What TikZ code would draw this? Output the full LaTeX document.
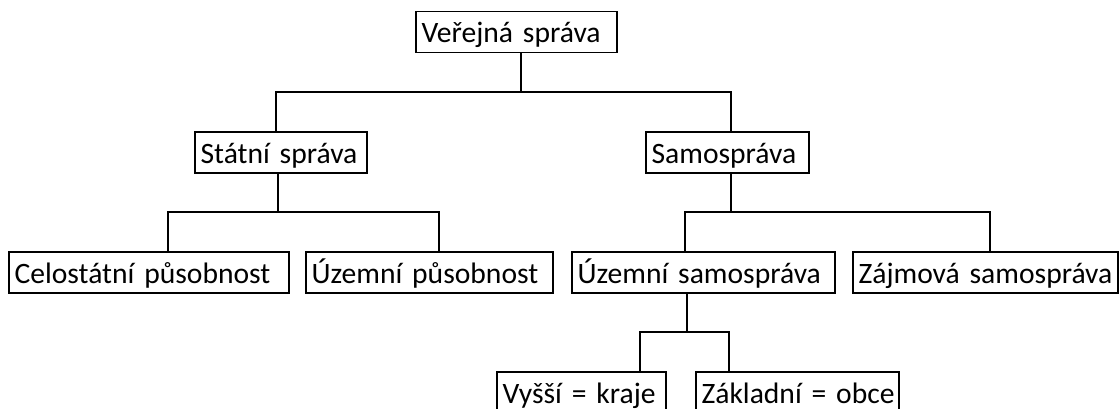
\documentclass[tikz,border=0pt]{standalone}
\usepackage{fontspec}
\setmainfont{Carlito}[WordSpace={0.8,0,0}]
\begin{document}
\begin{tikzpicture}[x=0.75pt,y=-0.75pt,
  bx/.style={draw=black,line width=0.9pt,rectangle,inner xsep=4.2pt,inner ysep=0pt,
    minimum height=30.75pt,align=left,text=black,text height=18.3pt,text depth=2pt,
    font=\fontsize{22.2pt}{25pt}\selectfont},
  ln/.style={draw=black,line width=0.9pt}]
\fill[white] (0,0) rectangle (1119,408);
\useasboundingbox (0,0) rectangle (1119,408);
\clip (0,0) rectangle (1119,408);
\node[bx,text width=142.35pt] (V) at (516.5,32) {\mbox{Veřejná správa}};
\node[bx,text width=120.6pt] (S) at (281,152.5) {\mbox{Státní správa}};
\node[bx,text width=113.85pt] (Sam) at (727.5,152.5) {\mbox{Samospráva}};
\node[bx,text width=201.6pt] (C) at (149,272.5) {\mbox{Celostátní působnost}};
\node[bx,text width=176.85pt] (UP) at (429.5,272.5) {\mbox{Územní působnost}};
\node[bx,text width=188.85pt] (US) at (703.5,272.5) {\mbox{Územní samospráva}};
\node[bx,text width=190.35pt] (Z) at (985.5,272.5) {\mbox{Zájmová samospráva}};
\node[bx,text width=118.35pt] (Vy) at (581.5,392.5) {\mbox{Vyšší = kraje}};
\node[bx,text width=143.85pt] (Zk) at (797.5,392.5) {\mbox{Základní = obce}};
% junctions
\coordinate (j0) at (521,92);
\coordinate (j0l) at (276,92);
\coordinate (j0r) at (731,92);
\coordinate (j1) at (278,212);
\coordinate (j1l) at (168,212);
\coordinate (j1r) at (439,212);
\coordinate (j2) at (731,212);
\coordinate (j2l) at (685,212);
\coordinate (j2r) at (990,212);
\coordinate (j3) at (687,332);
\coordinate (j3l) at (640,332);
\coordinate (j3r) at (729,332);
% connectors
\draw[ln] (V.south -| j0) -- (j0);
\draw[ln] (j0l |- S.north) -- (j0l) -- (j0r) -- (j0r |- Sam.north);
\draw[ln] (S.south -| j1) -- (j1);
\draw[ln] (j1l |- C.north) -- (j1l) -- (j1r) -- (j1r |- UP.north);
\draw[ln] (Sam.south -| j2) -- (j2);
\draw[ln] (j2l |- US.north) -- (j2l) -- (j2r) -- (j2r |- Z.north);
\draw[ln] (US.south -| j3) -- (j3);
\draw[ln] (j3l |- Vy.north) -- (j3l) -- (j3r) -- (j3r |- Zk.north);
\end{tikzpicture}
\end{document}
